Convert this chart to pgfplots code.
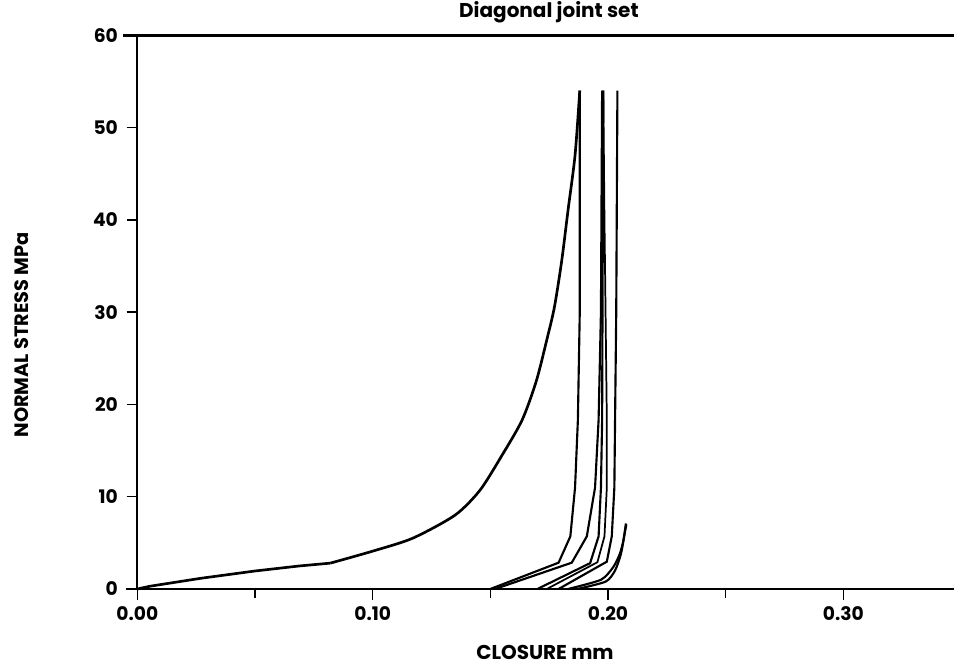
\documentclass[border=0pt]{standalone}
\usepackage{pgfplots}
\pgfplotsset{compat=1.18}
\usepackage{fontspec}
\setmainfont{Poppins}
\begin{document}
\begin{tikzpicture}
\useasboundingbox (0pt,0pt) rectangle (715.5pt,499.5pt);
\begin{axis}[
  at={(102.975pt,57.75pt)}, anchor=south west,
  scale only axis, width=612.5pt, height=415.35pt,
  xmin=0, xmax=0.347, ymin=0, ymax=60,
  axis line style={draw=none},
  xtick={0,0.1,0.2,0.3}, xticklabels={0.00,0.10,0.20,0.30},
  minor xtick={0.05,0.15,0.25},
  ytick={0,10,20,30,40,50,60},
  tick align=outside, xtick pos=bottom, ytick pos=left,
  major tick length=8pt, minor tick length=6.5pt,
  every tick/.style={black, line width=1.1pt},
  /pgf/number format/assume math mode=true,
  ticklabel style={font=\fontsize{14}{16}\selectfont\bfseries},
  xticklabel style={yshift=-2pt},
  yticklabel style={xshift=-3pt},
  clip=false,
]
\draw[line width=1.3pt] (rel axis cs:0,0) -- (rel axis cs:0,1);
\draw[line width=2.2pt] (axis cs:-0.005,0) -- (rel axis cs:1,0);
\draw[line width=2.2pt] (axis cs:-0.006,60) -- (rel axis cs:1,1);
\node[font=\fontsize{15}{17}\selectfont\bfseries] at (axis description cs:0.504,1.042) {Diagonal joint set};
\node[font=\fontsize{15}{17}\selectfont\bfseries] at (axis description cs:0.4992,-0.1138) {CLOSURE mm};
\node[font=\fontsize{14.5}{16}\selectfont\bfseries, rotate=90] at (axis description cs:-0.1412,0.4587) {NORMAL STRESS MPa};
% main loading curve
\addplot[black, line width=2pt] coordinates {
(0,0) (0.0054,0.3) (0.027,1.16) (0.05,1.95) (0.069,2.5) (0.082,2.8)};
\addplot[black, line width=2pt, smooth, tension=0.45] coordinates {
(0.082,2.8) (0.100,4.1) (0.117,5.5) (0.135,8.0) (0.1456,10.7) (0.155,14.5) (0.1635,18.3)
(0.1695,22.5) (0.1740,27) (0.1772,30.5) (0.1803,35.5) (0.1830,41)
(0.1860,47) (0.188,54)};
% cycle A
\addplot[black, line width=1.6pt] coordinates {
(0.150,0) (0.179,2.85) (0.184,5.7) (0.186,11) (0.1872,18.3) (0.188,30) (0.188,54)};
% cycle B
\addplot[black, line width=1.6pt] coordinates {
(0.152,0) (0.1846,2.85) (0.191,5.7) (0.1945,11) (0.196,18.3) (0.197,30) (0.1975,54)};
% cycle C
\addplot[black, line width=1.6pt] coordinates {
(0.170,0) (0.1924,2.8) (0.196,5.7) (0.197,11) (0.1975,18.3) (0.198,54)};
% cycle D
\addplot[black, line width=1.3pt] coordinates {
(0.174,0) (0.1955,2.9) (0.1985,5.7) (0.1995,11) (0.1995,18.3) (0.1985,40) (0.198,54)};
% cycle E
\addplot[black, line width=1.6pt] coordinates {
(0.179,0) (0.1995,2.96) (0.2016,5.7) (0.2027,11) (0.203,18.3) (0.2035,30) (0.204,54)};
% short cycles F
\addplot[black, line width=1.6pt, smooth, tension=0.4] coordinates {
(0.183,0) (0.197,1.0) (0.2023,2.4) (0.205,3.8) (0.2065,5.2) (0.2076,7.1)};
\addplot[black, line width=1.6pt, smooth, tension=0.4] coordinates {
(0.187,0) (0.199,0.8) (0.203,2.0) (0.2055,3.8) (0.2068,5.6) (0.2078,7.0)};
\end{axis}
\end{tikzpicture}
\end{document}
